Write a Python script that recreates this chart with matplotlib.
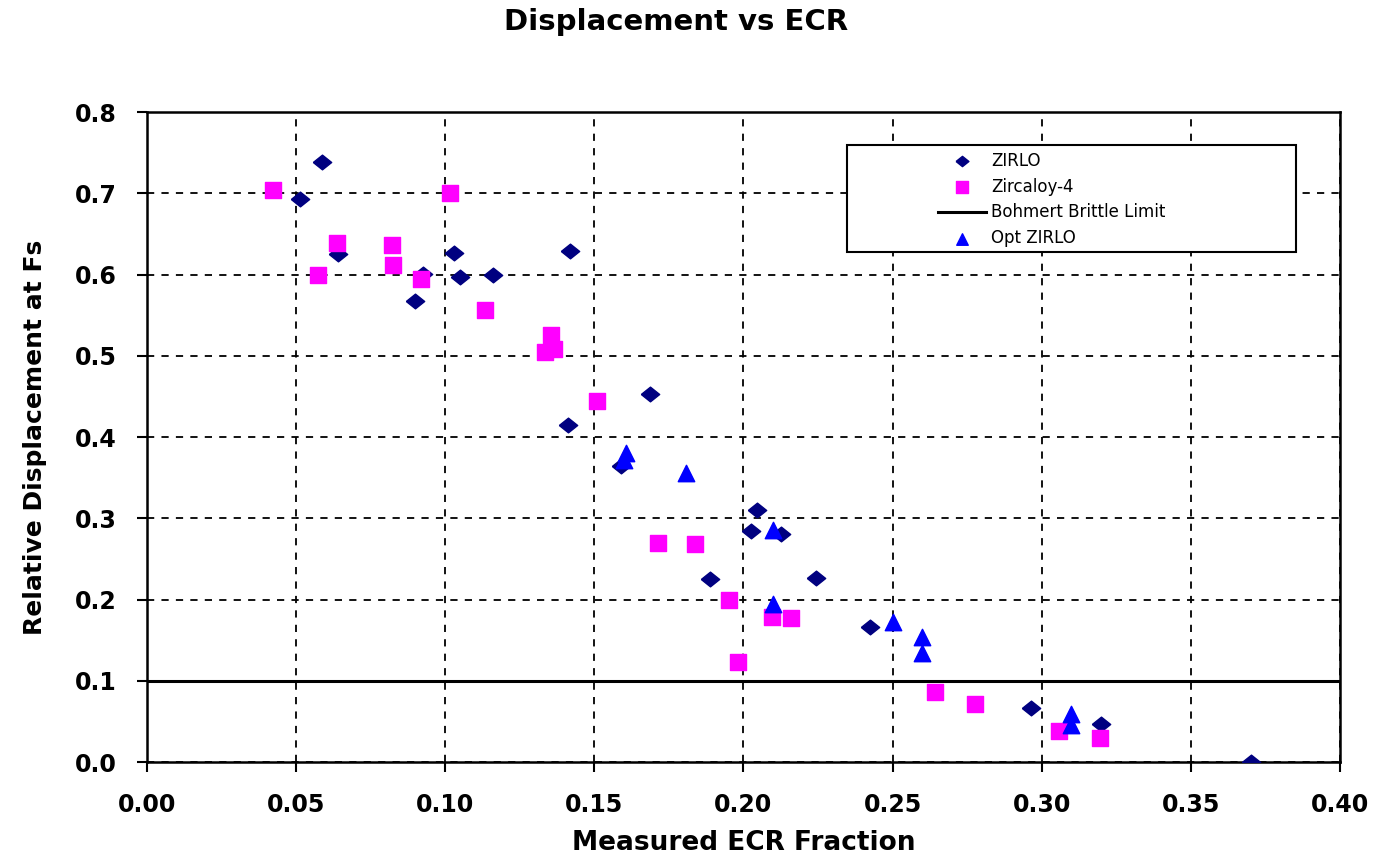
import matplotlib
matplotlib.use("Agg")
import matplotlib.pyplot as plt
from matplotlib.patches import Rectangle

# data
zirlo_x = [0.0587, 0.0514, 0.064, 0.1028, 0.1048, 0.116, 0.0927, 0.090, 0.142, 0.141,
           0.1688, 0.159, 0.2047, 0.2025, 0.2127, 0.1887, 0.2245, 0.2424, 0.2966, 0.3198, 0.3701]
zirlo_y = [0.738, 0.693, 0.625, 0.626, 0.597, 0.599, 0.601, 0.567, 0.629, 0.415,
           0.4535, 0.364, 0.310, 0.284, 0.281, 0.225, 0.227, 0.166, 0.0665, 0.0473, 0.0]

zirc_x = [0.0423, 0.1017, 0.0638, 0.0821, 0.0826, 0.0574, 0.0917, 0.1133, 0.1353, 0.1335,
          0.1365, 0.1508, 0.1714, 0.1837, 0.1952, 0.2096, 0.216, 0.1983, 0.2642, 0.2777,
          0.3058, 0.3196]
zirc_y = [0.704, 0.700, 0.639, 0.636, 0.612, 0.600, 0.595, 0.556, 0.525, 0.505,
          0.508, 0.444, 0.270, 0.268, 0.200, 0.179, 0.177, 0.1234, 0.0856, 0.0712,
          0.0382, 0.030]

opt_x = [0.1606, 0.1600, 0.1807, 0.2100, 0.2099, 0.2501, 0.2600, 0.2600, 0.3100, 0.3100]
opt_y = [0.380, 0.372, 0.356, 0.285, 0.195, 0.172, 0.154, 0.134, 0.0596, 0.0452]

brittle_limit = 0.1

xticks = [0.00, 0.05, 0.10, 0.15, 0.20, 0.25, 0.30, 0.35, 0.40]
yticks = [0.0, 0.1, 0.2, 0.3, 0.4, 0.5, 0.6, 0.7, 0.8]

plt.rcParams['font.family'] = ['DejaVu Sans']

# a slightly flattened diamond, like the Excel marker
diamond = [(-1, 0), (0, 0.8), (1, 0), (0, -0.8), (-1, 0)]

fig = plt.figure(figsize=(13.77, 8.63), dpi=100)
ax = fig.add_axes([0.1068, 0.1170, 0.8662, 0.7532])

ax.axhline(brittle_limit, color='black', lw=2.2, zorder=2, label='Bohmert Brittle Limit')
ax.scatter(zirlo_x, zirlo_y, marker=diamond, s=175, color='#000080', zorder=3, label='ZIRLO')
ax.scatter(zirc_x, zirc_y, marker='s', s=130, color='#FF00FF', zorder=3, label='Zircaloy-4')
ax.scatter(opt_x, opt_y, marker='^', s=140, color='#0000FF', zorder=4, label='Opt ZIRLO')

ax.set_xlim(0, 0.40)
ax.set_ylim(0, 0.8)
ax.set_xticks(xticks)
ax.set_yticks(yticks)
ax.set_xticklabels([f"{v:.2f}" for v in xticks])
ax.set_yticklabels([f"{v:.1f}" for v in yticks])
ax.tick_params(direction='out', length=7, width=1.5, labelsize=17)
ax.tick_params(axis='x', pad=15)
ax.tick_params(axis='y', pad=15)
for lab in ax.get_xticklabels() + ax.get_yticklabels():
    lab.set_fontweight('bold')

ax.grid(True, color='black', linestyle=(0, (4, 4)), linewidth=1.3)
ax.set_axisbelow(True)
for sp in ax.spines.values():
    sp.set_linewidth(1.8)

ax.set_xlabel('Measured ECR Fraction', fontsize=19, fontweight='bold', labelpad=10)
ax.set_ylabel('Relative Displacement at Fs', fontsize=18, fontweight='bold', labelpad=20)
fig.text(0.491, 0.975, 'Displacement vs ECR', ha='center', va='center',
         fontsize=21, fontweight='bold')

# legend box drawn separately so its width matches the reference
ax.add_patch(Rectangle((0.587, 0.785), 0.3765, 0.164, transform=ax.transAxes,
                       facecolor='white', edgecolor='black', lw=1.5, zorder=5))
handles, labels = ax.get_legend_handles_labels()
order = [labels.index(n) for n in ['ZIRLO', 'Zircaloy-4', 'Bohmert Brittle Limit', 'Opt ZIRLO']]
leg = ax.legend([handles[i] for i in order], [labels[i] for i in order],
                loc='upper left', bbox_to_anchor=(0.663, 0.939), fontsize=12,
                frameon=False, borderpad=0, labelspacing=0.47, handlelength=2.9,
                handletextpad=0.3, borderaxespad=0, markerscale=0.7)
leg.set_zorder(6)

fig.savefig('out.png', dpi=100)
